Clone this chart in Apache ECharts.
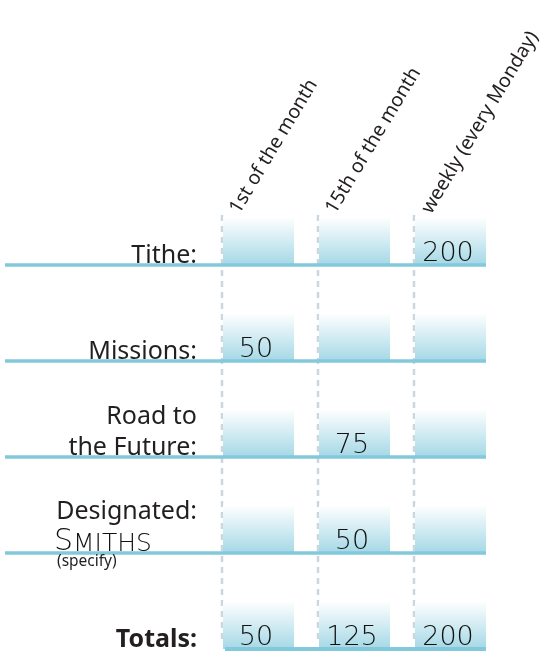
<!DOCTYPE html>
<html><head><meta charset="utf-8">
<script src="https://cdn.jsdelivr.net/npm/echarts@6/dist/echarts.min.js"></script>
<style>html,body{margin:0;padding:0;background:#fff}#c{width:542px;height:653px}</style>
</head><body><div id="c"></div>
<script>
// ---- data ----
const columns = ['1st of the month', '15th of the month', 'weekly (every Monday)'];
const rows = ['Tithe:', 'Missions:', 'Road to\nthe Future:', 'Designated:', 'Totals:'];
const tithe = [null, null, 200];
const missions = [50, null, null];
const roadToFuture = [null, 75, null];
const designated = [null, 50, null];
const totals = [50, 125, 200];
const designatedName = ['S', 'MITHS'];
const specifyNote = '(specify)';

// ---- build ----
const valueRows = [tithe, missions, roadToFuture, designated, totals];
const cellData = [];
valueRows.forEach((r, ri) => r.forEach((v, ci) => cellData.push([ci, ri, v == null ? '' : v])));
const rowData = rows.map((r, i) => [0, i, r]);
const colData = columns.map((c, i) => [i, 0, c]);

const HAND = 'DejaVu Sans';
const INK = '#231f20';
const LINE = '#82c9db';
const LABEL_FONT = '"Noto Sans"';

const chart = echarts.init(document.getElementById('c'), null, {renderer: 'canvas'});
chart.setOption({
  animation: false,
  grid: {left: 222, top: 169, width: 288, height: 480},
  xAxis: {type: 'category', data: columns, boundaryGap: true, show: false},
  yAxis: {type: 'category', data: rows, inverse: true, show: false},
  series: [
    { // dashed column guides
      type: 'custom', z: 1,
      data: colData,
      renderItem: (params, api) => {
        const ci = api.value(0);
        const top = api.coord([ci, 0]);
        const bot = api.coord([ci, rows.length - 1]);
        const s = api.size([1, 1]);
        const x = top[0] - s[0] / 2;
        return {type: 'line', shape: {x1: x, y1: top[1] + s[1] / 2 - 50, x2: x, y2: bot[1] + s[1] / 2 - 8},
          style: {stroke: '#cbd7de', lineWidth: 2.5, lineDash: [6, 5]}};
      }
    },
    { // cells
      type: 'custom', z: 2,
      data: cellData,
      renderItem: (params, api) => {
        const c = api.coord([api.value(0), api.value(1)]);
        const s = api.size([1, 1]);
        const left = c[0] - s[0] / 2;
        const bottom = c[1] + s[1] / 2;
        const w = s[0] * 0.75, h = 48;
        const v = cellData[params.dataIndex][2];
        return {type: 'group', children: [
          {type: 'rect', shape: {x: left + 1, y: bottom - h, width: w - 1, height: h},
            style: {fill: new echarts.graphic.LinearGradient(0, 0, 0, 1, [
              {offset: 0, color: 'rgba(255,255,255,1)'},
              {offset: 1, color: '#a5d8e6'}])}},
          {type: 'text', style: {text: String(v), x: left + w / 2 - 2, y: bottom + 2,
            textAlign: 'center', textVerticalAlign: 'bottom',
            fontFamily: HAND, fontWeight: 200, fontSize: 27, fill: '#111'}}
        ]};
      }
    },
    { // row baselines and labels
      type: 'custom', z: 3,
      data: rowData,
      renderItem: (params, api) => {
        const ri = api.value(1);
        const c0 = api.coord([0, ri]);
        const c2 = api.coord([2, ri]);
        const s = api.size([1, 1]);
        const bottom = c0[1] + s[1] / 2;
        const left0 = c0[0] - s[0] / 2;
        const end = c2[0] - s[0] / 2 + s[0] * 0.75;
        const isTotal = ri === rows.length - 1;
        const isDesig = ri === 3;
        const children = [
          {type: 'line', shape: {x1: isTotal ? left0 + 3 : 5, y1: bottom, x2: end, y2: bottom},
            style: {stroke: LINE, lineWidth: isTotal ? 4 : 3.5}},
          {type: 'text', style: {text: rows[ri], x: left0 - 25, y: bottom + 6 - (isDesig ? 32 : 0),
            textAlign: 'right', textVerticalAlign: 'bottom', lineHeight: 31,
            fontFamily: LABEL_FONT, fontSize: 25, fontWeight: isTotal ? 'bold' : 'normal', fill: INK}}
        ];
        if (isDesig) {
          children.push({type: 'text', style: {
            text: '{b|' + designatedName[0] + '}{s|' + designatedName[1] + '}',
            x: 54, y: bottom - 11, textAlign: 'left', textVerticalAlign: 'middle',
            rich: {b: {fontFamily: HAND, fontWeight: 200, fontSize: 30, fill: '#111', verticalAlign: 'bottom'},
                   s: {fontFamily: HAND, fontWeight: 200, fontSize: 25, fill: '#111', verticalAlign: 'bottom'}}}});
          children.push({type: 'text', style: {text: specifyNote, x: 57, y: bottom + 1,
            textAlign: 'left', textVerticalAlign: 'top', fontFamily: LABEL_FONT, fontSize: 15.5, fill: INK}});
        }
        return {type: 'group', children};
      }
    },
    { // column headers
      type: 'custom', z: 3,
      data: colData,
      renderItem: (params, api) => {
        const ci = api.value(0);
        const c = api.coord([ci, 0]);
        const s = api.size([1, 1]);
        const x = c[0] - s[0] / 2 + 21;
        const y = c[1] + s[1] / 2 - 48;
        return {type: 'text', x: x, y: y, rotation: 59 * Math.PI / 180,
          style: {text: columns[ci], x: 0, y: 0, textAlign: 'left', textVerticalAlign: 'bottom',
            fontFamily: LABEL_FONT, fontSize: 19.5, fill: INK}};
      }
    }
  ]
});
</script></body></html>
